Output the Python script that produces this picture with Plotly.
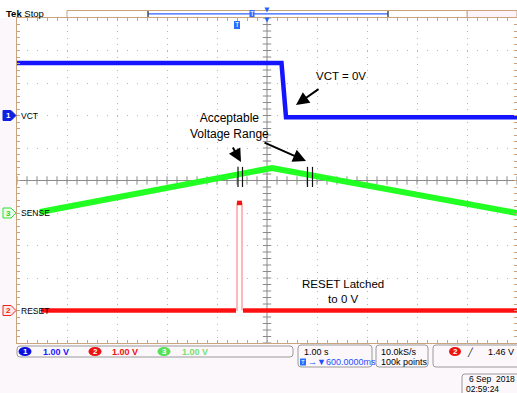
import numpy as np
import plotly.graph_objects as go

# ---------------- data (time in s relative to trigger, volts) ----------------
vct_t = [-4.4, 0.89, 0.98, 5.6]
vct_v = [1.615, 1.615, -0.05, -0.05]

sense_t = [-3.94, 0.70, 5.6]
sense_v = [0.03, 1.385, 0.0]

reset_t = [-3.92, -0.02, None, 0.0, 0.1, None, 0.12, 5.6]
reset_v = [0.0, 0.0, None, 3.31, 3.31, None, 0.0, 0.0]
reset_edge_t = [0.0, 0.0, None, 0.1, 0.1]
reset_edge_v = [0.0, 3.31, None, 3.31, 0.0]

marker_t = [0.02, 0.11, 1.41, 1.51]      # "acceptable range" cursor marks
channel_offset = {"VCT": 2, "SENSE": -1, "RESET": -4}   # divisions (1 V/div)
channel_scale = ["1.00 V", "1.00 V", "1.00 V"]
time_scale = "1.00 s"
h_pos = "600.0000ms"
sample_rate = "10.0kS/s"
rec_len = "100k points"
trig_level = "1.46 V"

# ---------------- geometry helpers (decorations only) ----------------
W, H = 517, 393
L, R, T, B = 17, 517, 18, 343
X0, X1 = -4.4, 5.6


def X(px):
    return (px - L) / (R - L)


def Y(py):
    return (B - py) / (B - T)


BLUE = "#1414ff"
GREEN = "#22ff22"
RED = "#ff1010"
PINK = "#ffb0b0"
TAN = "#c9a27e"
FONT = "Liberation Sans"

fig = go.Figure()

# center-line tick marks (graticule decoration)
tx = np.arange(X0, X1 + 1e-9, 0.2)
ty = np.arange(-5, 5 + 1e-9, 0.2)
fig.add_trace(go.Scatter(x=tx, y=[0] * len(tx), mode="markers",
                         marker=dict(symbol="line-ns", size=6, line=dict(width=1, color="#8a8a8a")),
                         hoverinfo="skip", showlegend=False))
fig.add_trace(go.Scatter(x=[0.6] * len(ty), y=ty, mode="markers",
                         marker=dict(symbol="line-ew", size=6, line=dict(width=1, color="#8a8a8a")),
                         hoverinfo="skip", showlegend=False))

# waveforms
fig.add_trace(go.Scatter(x=vct_t, y=[v + channel_offset["VCT"] for v in vct_v], mode="lines",
                         line=dict(color=BLUE, width=4.5), showlegend=False))
fig.add_trace(go.Scatter(x=sense_t, y=[v + channel_offset["SENSE"] for v in sense_v], mode="lines",
                         line=dict(color=GREEN, width=6), showlegend=False))
fig.add_trace(go.Scatter(x=reset_edge_t,
                         y=[None if v is None else v + channel_offset["RESET"] for v in reset_edge_v],
                         mode="lines", line=dict(color=PINK, width=1.8), showlegend=False))
fig.add_trace(go.Scatter(x=reset_t,
                         y=[None if v is None else v + channel_offset["RESET"] for v in reset_v],
                         mode="lines", line=dict(color=RED, width=4.5), showlegend=False))

shapes = []
annotations = []

# center vertical line
shapes.append(dict(type="line", xref="x", yref="paper", x0=0.6, x1=0.6, y0=0, y1=1,
                   line=dict(color="#8a8a8a", width=1), layer="below"))

# cursor marks on SENSE
for t in marker_t:
    shapes.append(dict(type="line", xref="x", yref="y", x0=t, x1=t, y0=-0.2, y1=0.42,
                       line=dict(color="#111111", width=1.2)))

# top white strip
shapes.append(dict(type="rect", xref="paper", yref="paper", x0=X(0), x1=X(W), y0=Y(T), y1=Y(0),
                   fillcolor="white", line=dict(width=0), layer="below"))
# record bar
shapes.append(dict(type="rect", xref="paper", yref="paper", x0=X(467), x1=X(517), y0=Y(17.5), y1=Y(10.5),
                   fillcolor="#fdf3f8", line=dict(color=TAN, width=1)))
shapes.append(dict(type="rect", xref="paper", yref="paper", x0=X(67), x1=X(467), y0=Y(17.5), y1=Y(10.5),
                   fillcolor="white", line=dict(color=TAN, width=1)))
shapes.append(dict(type="line", xref="paper", yref="paper", x0=X(148), x1=X(388), y0=Y(13.8), y1=Y(13.8),
                   line=dict(color="#3060ff", width=1.2)))
for bx in (148, 388):
    shapes.append(dict(type="line", xref="paper", yref="paper", x0=X(bx), x1=X(bx), y0=Y(17), y1=Y(11),
                       line=dict(color="#222", width=1.2)))


def tri_down(cx, cy, s, color):
    p = "M {} {} L {} {} L {} {} Z".format(X(cx - s), Y(cy - s), X(cx + s), Y(cy - s), X(cx), Y(cy + s))
    return dict(type="path", xref="paper", yref="paper", path=p, fillcolor=color, line=dict(width=0))


shapes.append(tri_down(267, 10, 2.5, "#2060ff"))
shapes.append(tri_down(267, 20, 2.5, "#2060ff"))


def tbox(cx, cy, w, h, txt, fill, fc="white", size=7):
    shapes.append(dict(type="rect", xref="paper", yref="paper", x0=X(cx - w / 2), x1=X(cx + w / 2),
                       y0=Y(cy + h / 2), y1=Y(cy - h / 2), fillcolor=fill, line=dict(width=0)))
    annotations.append(dict(xref="paper", yref="paper", x=X(cx), y=Y(cy), text=txt, showarrow=False,
                            font=dict(family=FONT, size=size, color=fc), xanchor="center", yanchor="middle"))


tbox(252, 13.5, 5, 7, "T", "#2b6cff")
tbox(237, 25, 6, 8, "T", "#2b6cff")


def rrect(x0, y0, x1, y1, r=3, color="#9a9a9a", fill="rgba(0,0,0,0)"):
    p = ("M {a} {b} L {c} {b} Q {x1} {b} {x1} {d} L {x1} {e} Q {x1} {y1} {c} {y1} "
         "L {a} {y1} Q {x0} {y1} {x0} {e} L {x0} {d} Q {x0} {b} {a} {b} Z").format(
        a=X(x0 + r), b=Y(y0), c=X(x1 - r), d=Y(y0 + r), e=Y(y1 - r),
        x0=X(x0), x1=X(x1), y1=Y(y1))
    shapes.append(dict(type="path", xref="paper", yref="paper", path=p,
                       line=dict(color=color, width=1), fillcolor=fill))


# bottom info boxes
rrect(17, 346, 293, 357)
rrect(298, 345, 372, 367)
rrect(376, 345, 428, 367)
rrect(433, 345, 530, 367)
rrect(462, 374, 530, 400)


def ellipse(cx, cy, w, h, fill, txt, fc="white"):
    shapes.append(dict(type="circle", xref="paper", yref="paper", x0=X(cx - w / 2), x1=X(cx + w / 2),
                       y0=Y(cy + h / 2), y1=Y(cy - h / 2), fillcolor=fill, line=dict(width=0)))
    annotations.append(dict(xref="paper", yref="paper", x=X(cx), y=Y(cy), text="<b>%s</b>" % txt,
                            showarrow=False, font=dict(family=FONT, size=8, color=fc),
                            xanchor="center", yanchor="middle"))


def text(px, py, s, size=9, color="black", anchor="left", family=FONT):
    annotations.append(dict(xref="paper", yref="paper", x=X(px), y=Y(py), text=s, showarrow=False,
                            font=dict(family=family, size=size, color=color), xanchor=anchor,
                            yanchor="middle"))


ellipse(25, 351.5, 13, 9, "#0a10e0", "1")
text(41, 352, "<b>%s</b>" % channel_scale[0], 9, "#1a1aff")
ellipse(95, 351.5, 13, 9, "#ee1111", "2")
text(110, 352, "<b>%s</b>" % channel_scale[1], 9, "#ee1111")
ellipse(164, 351.5, 13, 9, "#55e055", "3")
text(180, 352, "<b>%s</b>" % channel_scale[2], 9, "#77e077")

text(302, 351.5, time_scale, 9)
tbox(303, 362, 6, 7, "T", "#2b6cff", size=6)
text(306, 362, "\u2192\u25bc" + h_pos, 9, "#2050ff")
text(379, 351.5, sample_rate, 9)
text(379, 362, rec_len, 9)
ellipse(455, 351.5, 12, 9, "#ee1111", "2")
text(470, 351.5, "\u2571", 8, "black", "center")
text(516, 351.5, trig_level, 9, "black", "right")
text(467, 379.5, "6 Sep  2018", 8.5)
text(464, 388.5, "02:59:24", 8.5)

# top-left status
text(4, 14, "<b>Tek</b> Stop", 9.5)

# ground markers


def gmark(py, fill, edge, txt, fc):
    p = "M {} {} L {} {} L {} {} L {} {} L {} {} Z".format(
        X(3), Y(py - 5), X(11), Y(py - 5), X(16), Y(py), X(11), Y(py + 5), X(3), Y(py + 5))
    shapes.append(dict(type="path", xref="paper", yref="paper", path=p, fillcolor=fill,
                       line=dict(color=edge, width=1)))
    annotations.append(dict(xref="paper", yref="paper", x=X(8), y=Y(py), text="<b>%s</b>" % txt,
                            showarrow=False, font=dict(family=FONT, size=8, color=fc),
                            xanchor="center", yanchor="middle"))


gmark(115.5, "#1020e0", "#1020e0", "1", "white")
gmark(213, "#eaffea", "#33dd33", "3", "#33cc33")
gmark(310.5, "#ffe8e8", "#ee2222", "2", "#ee2222")
text(19, 115.5, "VCT", 8.5)
text(19, 213, "SENSE", 8.5)
text(19, 310.5, "RESET", 8.5)

# callouts
AF = "Liberation Sans"
text(341, 76, "VCT = 0V", 11.5, "black", "center", AF)
annotations.append(dict(xref="paper", yref="paper", x=X(229), y=Y(126), text="Acceptable<br>Voltage Range",
                        showarrow=False, font=dict(family=AF, size=12, color="black"),
                        xanchor="center", yanchor="middle"))
annotations.append(dict(xref="paper", yref="paper", x=X(343), y=Y(291), text="RESET Latched<br>to 0 V",
                        showarrow=False, font=dict(family=AF, size=11.5, color="black"),
                        xanchor="center", yanchor="middle"))
for hx, hy, ax, ay in [(296, 105, 24, -17), (241, 162, -9, -16), (306, 161, -43, -19)]:
    annotations.append(dict(xref="paper", yref="paper", x=X(hx), y=Y(hy), text="", showarrow=True,
                            ax=ax, ay=ay, arrowhead=2, arrowsize=1.3, arrowwidth=2, arrowcolor="black"))

fig.update_layout(
    width=W, height=H,
    margin=dict(l=L, r=W - R, t=T, b=H - B, pad=0),
    paper_bgcolor="#fcf7fb", plot_bgcolor="white",
    shapes=shapes, annotations=annotations,
    showlegend=False,
    xaxis=dict(range=[X0, X1], tick0=X0, dtick=1, showgrid=True, gridcolor="#b5b5b5",
               griddash="1px,5.5px", gridwidth=1, zeroline=False, showticklabels=False,
               showline=True, linecolor=TAN, linewidth=1, mirror="allticks",
               ticks="inside", ticklen=3, tickcolor=TAN,
               minor=dict(dtick=0.2, tick0=X0, ticks="inside", ticklen=3, tickcolor=TAN, showgrid=False)),
    yaxis=dict(range=[-5, 5], tick0=-5, dtick=1, showgrid=True, gridcolor="#b5b5b5",
               griddash="1px,9px", gridwidth=1, zeroline=True, zerolinecolor="#8a8a8a", zerolinewidth=1,
               showticklabels=False, showline=True, linecolor=TAN, linewidth=1, mirror="allticks",
               ticks="inside", ticklen=3, tickcolor=TAN,
               minor=dict(dtick=0.2, tick0=-5, ticks="inside", ticklen=3, tickcolor=TAN, showgrid=False)),
)

fig.write_html("out.html", config={"displayModeBar": False},
               post_script="document.body.style.margin='0';document.body.style.overflow='hidden';")
